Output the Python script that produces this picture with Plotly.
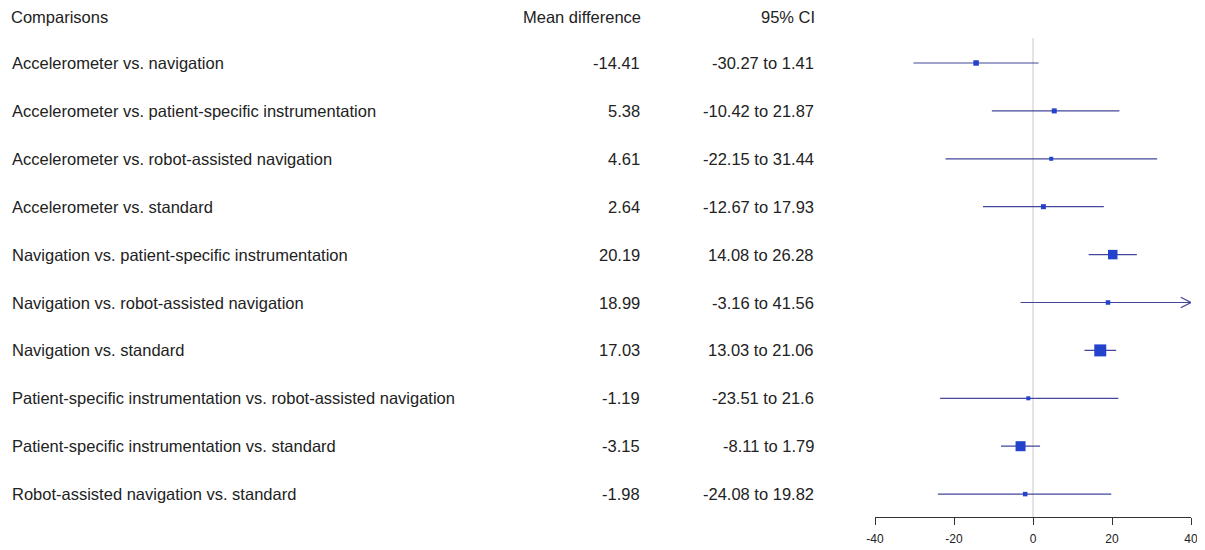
import plotly.graph_objects as go

comparisons = [
    "Accelerometer vs. navigation",
    "Accelerometer vs. patient-specific instrumentation",
    "Accelerometer vs. robot-assisted navigation",
    "Accelerometer vs. standard",
    "Navigation vs. patient-specific instrumentation",
    "Navigation vs. robot-assisted navigation",
    "Navigation vs. standard",
    "Patient-specific instrumentation vs. robot-assisted navigation",
    "Patient-specific instrumentation vs. standard",
    "Robot-assisted navigation vs. standard",
]
mean_diff = [-14.41, 5.38, 4.61, 2.64, 20.19, 18.99, 17.03, -1.19, -3.15, -1.98]
ci_low = [-30.27, -10.42, -22.15, -12.67, 14.08, -3.16, 13.03, -23.51, -8.11, -24.08]
ci_high = [1.41, 21.87, 31.44, 17.93, 26.28, 41.56, 21.06, 21.6, 1.79, 19.82]
# relative box weights
box_weight = [5.5, 5, 4, 5, 9.5, 4.5, 12, 4, 10, 4.5]

headers = ["Comparisons", "Mean difference", "95% CI"]
x_ticks = [-40, -20, 0, 20, 40]
x_min, x_max = -40, 40

LINE = "#43479a"
BOX = "#2443cc"
TEXT = "#222222"
FONT = "Liberation Sans, Arial, sans-serif"
W = 1205

rows = [-(i + 1) for i in range(len(comparisons))]

fig = go.Figure()

for y, lo, hi in zip(rows, ci_low, ci_high):
    lo_c = max(lo, x_min)
    hi_c = min(hi, x_max)
    fig.add_trace(go.Scatter(x=[lo_c, hi_c], y=[y, y], mode="lines",
                             line=dict(color=LINE, width=1.2),
                             hoverinfo="skip", showlegend=False, cliponaxis=False))
    if hi > x_max:
        fig.add_trace(go.Scatter(x=[x_max - 2.6, x_max, x_max - 2.6],
                                 y=[y + 0.11, y, y - 0.11], mode="lines",
                                 line=dict(color=LINE, width=1.2),
                                 hoverinfo="skip", showlegend=False, cliponaxis=False))
    if lo < x_min:
        fig.add_trace(go.Scatter(x=[x_min + 2.6, x_min, x_min + 2.6],
                                 y=[y + 0.11, y, y - 0.11], mode="lines",
                                 line=dict(color=LINE, width=1.2),
                                 hoverinfo="skip", showlegend=False, cliponaxis=False))

fig.add_trace(go.Scatter(x=mean_diff, y=rows, mode="markers",
                         marker=dict(symbol="square", size=box_weight, color=BOX,
                                     opacity=1, line=dict(width=0)),
                         showlegend=False, cliponaxis=False))

fig.add_shape(type="line", xref="x", yref="y", x0=0, x1=0, y0=-0.48, y1=-10.478,
              line=dict(color="#c8c8c8", width=1), layer="below")

ann = []
col_x = [(2, "left"), (634, "right"), (808, "right")]
for (cx, anc), h in zip(col_x, headers):
    ann.append(dict(x=cx / W, y=-0.05, xref="paper", yref="y", text=h,
                    xanchor=anc, showarrow=False, borderpad=0))
for y, name, m, lo, hi in zip(rows, comparisons, mean_diff, ci_low, ci_high):
    vals = [name, f"{m:g}", f"{lo:g} to {hi:g}"]
    for (cx, anc), t in zip(col_x, vals):
        ann.append(dict(x=cx / W, y=y, xref="paper", yref="y", text=t,
                        xanchor=anc, showarrow=False))
for a in ann:
    a["font"] = dict(family=FONT, size=16.5, color=TEXT)
fig.update_layout(annotations=ann)

fig.update_layout(
    width=W, height=550,
    margin=dict(l=0, r=0, t=0, b=41, autoexpand=False),
    paper_bgcolor="white", plot_bgcolor="white",
    font=dict(family=FONT, color=TEXT),
    xaxis=dict(domain=[867 / W, 1183 / W], range=[x_min, x_max],
               tickvals=x_ticks, ticktext=[str(t) for t in x_ticks],
               showgrid=False, zeroline=False, showline=True, linecolor="#333333",
               linewidth=1, ticks="outside", ticklen=7, tickcolor="#333333",
               ticklabelstandoff=4,
               tickfont=dict(size=12, family=FONT, color=TEXT)),
    yaxis=dict(domain=[0, 1], range=[-10.478, 0.148], visible=False),
)

fig.write_html("out.html")
